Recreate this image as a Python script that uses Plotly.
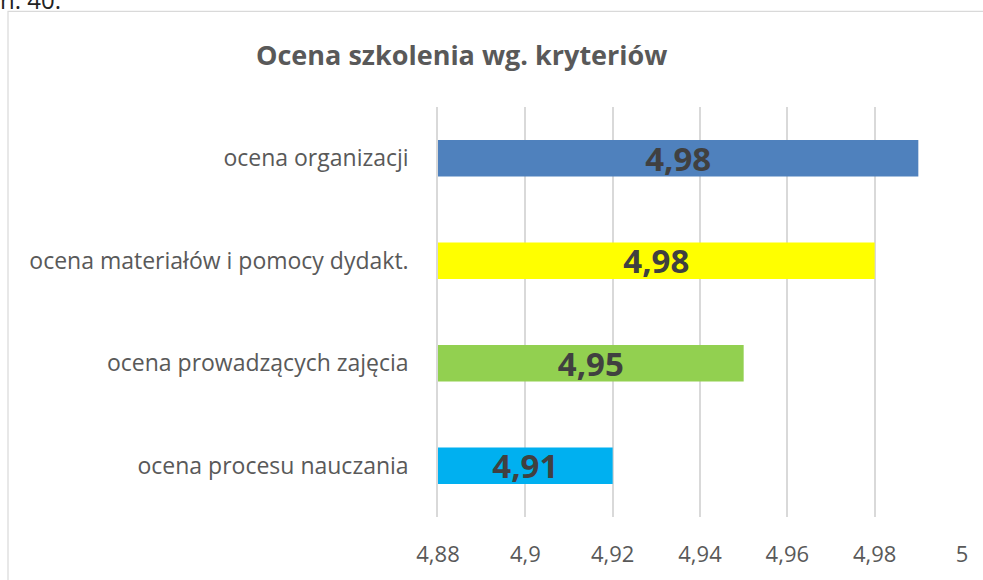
import plotly.graph_objects as go

categories = [
    "ocena procesu nauczania",
    "ocena prowadzących zajęcia",
    "ocena materiałów i pomocy dydakt.",
    "ocena organizacji",
]
values = [4.92, 4.95, 4.98, 4.99]
labels = ["4,91", "4,95", "4,98", "4,98"]
colors = ["#00B0F0", "#92D050", "#FFFF00", "#4F81BD"]
tick_vals = [4.88, 4.90, 4.92, 4.94, 4.96, 4.98, 5.00]
tick_text = ["4,88", "4,9", "4,92", "4,94", "4,96", "4,98", "5"]
axis_min, axis_max = 4.88, 5.0

W, H = 983, 580
L, R, T, B = 438, 21, 107, 57
pw = W - L - R
ph = H - T - B

def px_x(p):
    return (p - L) / pw

def px_y(p):
    return (H - B - p) / ph

fig = go.Figure(
    go.Bar(
        y=categories,
        x=[v - axis_min for v in values],
        base=axis_min,
        orientation="h",
        marker=dict(color=colors, line=dict(width=0)),
        text=labels,
        textposition="inside",
        insidetextanchor="middle",
        constraintext="none",
        textangle=0,
        textfont=dict(family="Open Sans", size=33, color="#404040", weight="bold"),
        hoverinfo="skip",
    )
)

fig.update_layout(
    width=W,
    height=H,
    margin=dict(l=L, r=R, t=T, b=B, pad=0),
    paper_bgcolor="white",
    plot_bgcolor="white",
    bargap=0.644,
    showlegend=False,
    font=dict(family="Open Sans", color="#595959"),
    uniformtext=dict(mode=False),
    annotations=[
        dict(
            text="<b>Ocena szkolenia wg. kryteriów</b>",
            xref="paper", yref="paper",
            x=px_x(461), y=px_y(54),
            xanchor="center", yanchor="middle",
            showarrow=False,
            font=dict(family="Open Sans", size=27, color="#595959"),
        ),
        dict(
            text="n. 40.",
            xref="paper", yref="paper",
            x=px_x(-2), y=px_y(-2),
            xanchor="left", yanchor="middle",
            showarrow=False,
            font=dict(family="Open Sans", size=24, color="#222222"),
        ),
    ],
    shapes=[
        dict(
            type="rect", xref="paper", yref="paper",
            x0=px_x(8), x1=px_x(1010), y0=px_y(620), y1=px_y(10),
            line=dict(color="#D9D9D9", width=1.2), fillcolor="rgba(0,0,0,0)",
            layer="below",
        )
    ],
)

fig.update_xaxes(
    range=[axis_min, axis_max],
    tickmode="array",
    tickvals=tick_vals,
    ticktext=tick_text,
    showgrid=True,
    gridcolor="#D9D9D9",
    gridwidth=1.5,
    zeroline=False,
    showline=False,
    ticks="",
    ticklabelstandoff=22,
    tickfont=dict(family="Open Sans", size=22, color="#595959"),
    fixedrange=True,
)
fig.update_yaxes(
    categoryorder="array",
    categoryarray=categories,
    showgrid=False,
    zeroline=False,
    showline=True,
    linecolor="#D9D9D9",
    linewidth=1.5,
    ticks="",
    ticklabelstandoff=23,
    tickfont=dict(family="Open Sans", size=23, color="#595959"),
    fixedrange=True,
)

fig.write_html(
    "out.html",
    config={"displayModeBar": False},
    post_script="document.body.style.margin='0';document.body.style.overflow='hidden';",
)
